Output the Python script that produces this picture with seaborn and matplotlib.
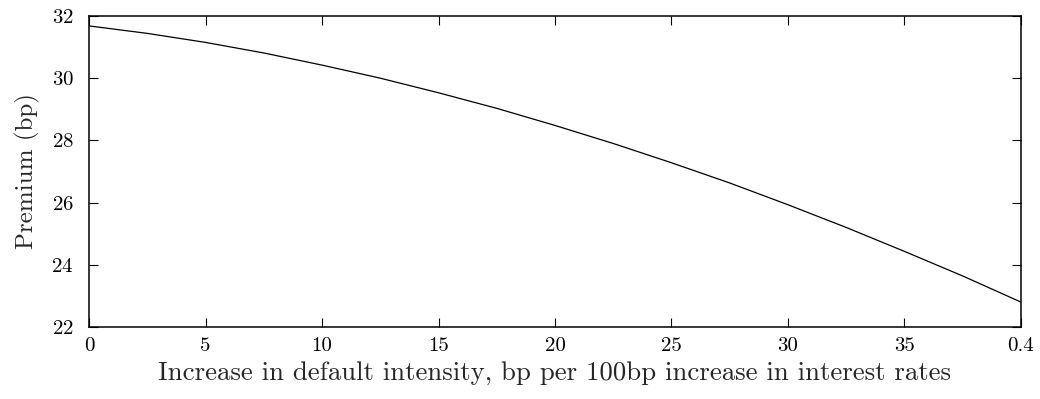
import pandas as pd
import seaborn as sns
import matplotlib.pyplot as plt

# values
intensity = [0, 2.5, 5, 7.5, 10, 12.5, 15, 17.5, 20, 22.5, 25, 27.5, 30, 32.5, 35, 37.5, 40]
premium = [31.68, 31.44, 31.15, 30.81, 30.42, 30.0, 29.53, 29.03, 28.48, 27.9,
           27.28, 26.63, 25.93, 25.2, 24.43, 23.64, 22.80]
x_ticks = [0, 5, 10, 15, 20, 25, 30, 35, 40]
x_tick_labels = ["0", "5", "10", "15", "20", "25", "30", "35", "0.4"]
y_ticks = [22, 24, 26, 28, 30, 32]

df = pd.DataFrame({"intensity": intensity, "premium": premium})

sns.set_style("ticks")
plt.rcParams["font.family"] = ["cmr10", "DejaVu Serif"]
plt.rcParams["axes.formatter.use_mathtext"] = True
plt.rcParams["mathtext.fontset"] = "cm"

fig = plt.figure(figsize=(10.4, 3.99), dpi=100)
ax = fig.add_axes([0.0856, 0.1805, 0.8961, 0.7795])

sns.lineplot(data=df, x="intensity", y="premium", color="black", linewidth=0.9, ax=ax)

ax.set_xlim(0, 40)
ax.set_ylim(22, 32)
ax.set_xticks(x_ticks)
ax.set_xticklabels(x_tick_labels)
ax.set_yticks(y_ticks)
ax.tick_params(direction="in", length=6.5, width=0.8, labelsize=15,
               top=True, right=True, colors="black")
ax.tick_params(axis="x", pad=7)
ax.tick_params(axis="y", pad=11)
for s in ax.spines.values():
    s.set_linewidth(1.1)
    s.set_color("black")

ax.set_xlabel("Increase in default intensity, bp per 100bp increase in interest rates",
              fontsize=19.3, labelpad=5)
ax.set_ylabel("Premium (bp)", fontsize=18, labelpad=8)

plt.savefig("out.png", dpi=100)
